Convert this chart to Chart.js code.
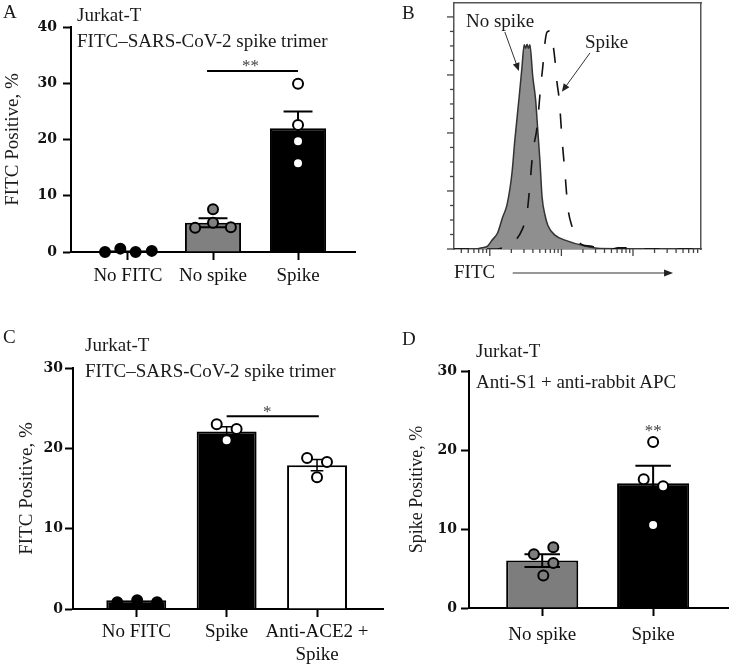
<!DOCTYPE html>
<html><head><meta charset="utf-8">
<script src="https://cdn.jsdelivr.net/npm/chart.js@4.4.1/dist/chart.umd.min.js"></script>
<style>
html,body{margin:0;padding:0;background:#fff;}
#wrap{position:relative;width:735px;height:667px;overflow:hidden;background:#fff;}
canvas{position:absolute;}
.t{position:absolute;font-family:'Liberation Serif',serif;font-size:19px;line-height:19px;white-space:nowrap;color:#1a1a1a;z-index:5;}
</style></head><body>
<div id="wrap">
<canvas id="cA" width="370" height="300" style="left:0;top:0"></canvas>
<canvas id="cB" width="365" height="300" style="left:370px;top:0"></canvas>
<canvas id="cC" width="390" height="337" style="left:0;top:330px"></canvas>
<canvas id="cD" width="365" height="337" style="left:370px;top:330px"></canvas>
<div class="t" style="left:3px;top:2px">A</div>
<div class="t" style="left:77px;top:5px">Jurkat-T</div>
<div class="t" style="left:77px;top:31px">FITC–SARS-CoV-2 spike trimer</div>
<div class="t" style="left:402px;top:3px">B</div>
<div class="t" style="left:466px;top:11px">No spike</div>
<div class="t" style="left:585px;top:32px">Spike</div>
<div class="t" style="left:3px;top:327px">C</div>
<div class="t" style="left:85px;top:335px">Jurkat-T</div>
<div class="t" style="left:85px;top:361px">FITC–SARS-CoV-2 spike trimer</div>
<div class="t" style="left:402px;top:329px">D</div>
<div class="t" style="left:476px;top:341px">Jurkat-T</div>
<div class="t" style="left:476px;top:372px">Anti-S1 + anti-rabbit APC</div>
</div>
<script>
Chart.defaults.font.family = "'Liberation Serif', serif";
Chart.defaults.color = '#111';

// ---------- Panel A data ----------
const catsA = ['No FITC', 'No spike', 'Spike'];
const meanA = [0.3, 5.2, 22.0];
const semA = [0, 0.8, 3.0];
const ptsA_noFitc = [0.0, 0.6, 0.0, 0.2];
const jitA_noFitc = [-0.27, -0.09, 0.09, 0.28];
const ptsA_noSpike = [4.3, 7.6, 5.2, 4.4];
const jitA_noSpike = [-0.21, 0, 0, 0.21];
const ptsA_spike = [29.9, 22.6, 19.7, 15.8];
const jitA_spike = [0, 0, 0, 0];
const sigA = {x1: 0.93, x2: 2.0, y: 32.2, text: '**', tx: 1.44, ty: 32.1};

// ---------- Panel B data (x = log10 FITC intensity) ----------
const noSpikeX = [2.5, 2.8, 2.89, 2.97, 3.03, 3.11, 3.18, 3.24, 3.31, 3.35, 3.41, 3.45, 3.48, 3.5, 3.52, 3.54, 3.56, 3.6, 3.64, 3.67, 3.7, 3.73, 3.77, 3.81, 3.91, 4.08, 4.33, 4.54, 5.95];
const noSpikeY = [0, 0, 0.02, 0.05, 0.15, 0.28, 0.55, 0.76, 1.31, 1.88, 2.62, 3.14, 3.52, 3.46, 3.53, 3.46, 3.52, 2.97, 2.57, 2.05, 1.53, 0.9, 0.59, 0.41, 0.24, 0.14, 0.05, 0.01, 0];
const spikeX = [2.5, 3.1, 3.2, 3.28, 3.38, 3.45, 3.52, 3.56, 3.6, 3.66, 3.71, 3.74, 3.77, 3.8, 3.84, 3.88, 3.91, 3.94, 3.97, 4.01, 4.05, 4.09, 4.15, 4.22, 4.3, 4.4, 4.51, 4.58, 4.7, 4.79, 4.92, 5.0, 5.95];
const spikeY = [0, 0, 0.03, 0.07, 0.18, 0.33, 0.62, 1.1, 1.66, 2.1, 2.79, 3.14, 3.55, 3.74, 3.76, 3.55, 3.26, 2.86, 2.57, 1.88, 1.31, 0.72, 0.38, 0.16, 0.07, 0.05, 0.02, 0, 0, 0.02, 0.02, 0, 0];
const decadesB = [2, 3, 4, 5];
const arrowsB = [
  {x1: 3.21, y1: 3.74, x2: 3.406, y2: 3.07},
  {x1: 4.40, y1: 3.38, x2: 4.007, y2: 2.71}
];

// ---------- Panel C data ----------
const catsC = ['No FITC', 'Spike', ['Anti-ACE2 +', 'Spike']];
const meanC = [1.1, 22.1, 17.9];
const semC = [0, 0.6, 0.7];
const ptsC_noFitc = [0.85, 1.1, 0.85];
const jitC_noFitc = [-0.21, 0.01, 0.23];
const ptsC_spike = [23.0, 21.0, 22.4];
const jitC_spike = [-0.11, 0, 0.11];
const ptsC_anti = [18.8, 16.4, 18.3];
const jitC_anti = [-0.11, 0, 0.11];
const sigC = {x1: 1.0, x2: 2.02, y: 24.0, text: '*', tx: 1.45, ty: 23.9};

// ---------- Panel D data ----------
const catsD = ['No spike', 'Spike'];
const meanD = [6.0, 15.8];
const semD = [0.8, 2.2];
const ptsD_noSpike = [6.8, 7.7, 5.7, 4.1];
const jitD_noSpike = [-0.075, 0.1, 0.1, 0.01];
const ptsD_spike = [21.0, 16.3, 15.4, 10.5];
const jitD_spike = [0, -0.085, 0.09, 0];
const sigD = {text: '**', tx: 1.0, ty: 21.8};

// ---------- helpers ----------
function pts(jit, vals, idx) { return vals.map((v, k) => ({x: idx + jit[k], y: v})); }
function errData(means, sems, cap) {
  const d = [];
  means.forEach((m, i) => {
    const s = sems[i];
    if (!s) return;
    d.push({x: i, y: m - s}, {x: i, y: m + s}, {x: i, y: null},
           {x: i - cap, y: m + s}, {x: i + cap, y: m + s}, {x: i, y: null},
           {x: i - cap, y: m - s}, {x: i + cap, y: m - s}, {x: i, y: null});
  });
  return d;
}
const sigLabelPlugin = {
  id: 'sigLabels',
  afterDatasetsDraw(chart, args, opts) {
    const items = opts.items || [];
    const ctx = chart.ctx, xs = chart.scales.x, ys = chart.scales.y;
    ctx.save();
    ctx.font = "17px 'Liberation Serif'";
    ctx.fillStyle = '#444';
    ctx.textAlign = 'center';
    ctx.textBaseline = 'alphabetic';
    items.forEach(it => ctx.fillText(it.text, xs.getPixelForValue(it.tx), ys.getPixelForValue(it.ty)));
    ctx.restore();
  }
};

function barPanel(id, o) {
  const ds = [
    {type: 'bar', data: o.means.map((m, i) => ({x: i, y: m})), backgroundColor: o.colors,
     borderColor: '#000', borderWidth: 2, categoryPercentage: 1, barPercentage: o.barPct, order: 3},
    {type: 'line', data: errData(o.means, o.sems, o.cap), borderColor: o.errColor, borderWidth: o.errW,
     pointRadius: 0, spanGaps: false, order: 2, clip: false}
  ];
  if (o.sig && o.sig.x1 !== undefined) {
    ds.push({type: 'line', data: [{x: o.sig.x1, y: o.sig.y}, {x: o.sig.x2, y: o.sig.y}],
             borderColor: '#000', borderWidth: 2, pointRadius: 0, order: 2, clip: false});
  }
  o.groups.forEach(g => ds.push({type: 'scatter', data: pts(g.jit, g.vals, g.idx), pointRadius: 5,
    pointBorderWidth: 2, pointBackgroundColor: g.fill, pointBorderColor: '#000', order: 1, clip: false}));
  return new Chart(document.getElementById(id), {
    type: 'bar',
    data: {datasets: ds},
    options: {
      responsive: false, animation: false, events: [],
      layout: {padding: o.pad},
      plugins: {legend: {display: false}, tooltip: {enabled: false},
                sigLabels: {items: o.sig ? [o.sig] : []}},
      scales: {
        x: {type: 'linear', min: o.xmin, max: o.xmax, offset: false,
            grid: {display: true, drawOnChartArea: false, offset: false, tickLength: 8, tickWidth: 2, tickColor: '#000'},
            border: {display: true, color: '#000', width: 2},
            afterBuildTicks: s => { s.ticks = o.cats.map((c, i) => ({value: i})); },
            ticks: {autoSkip: false, maxRotation: 0, padding: o.xPad, color: '#111', font: {size: 19},
                    callback: v => o.cats[v]},
            afterFit: s => { s.height = o.xH; }},
        y: {type: 'linear', min: 0, max: o.ymax,
            ticks: {stepSize: 10, padding: o.yPad, color: '#111', font: {family: "'DejaVu Serif'", weight: 'bold', size: 14}},
            grid: {drawOnChartArea: false, tickLength: 8, tickWidth: 2, tickColor: '#000'},
            border: {display: true, color: '#000', width: 2},
            title: {display: true, text: o.ytitle, font: {size: o.ytSize}, color: '#1a1a1a', padding: {top: 2, bottom: 0}},
            afterFit: s => { s.width = o.yW; }}
      }
    },
    plugins: [sigLabelPlugin]
  });
}

// Panel A
barPanel('cA', {
  means: meanA, sems: semA, cats: catsA, colors: ['#000', '#808080', '#000'], barPct: 0.66,
  cap: 0.17, errW: 2, errColor: '#000', sig: sigA,
  groups: [
    {idx: 0, jit: jitA_noFitc, vals: ptsA_noFitc, fill: '#000'},
    {idx: 1, jit: jitA_noSpike, vals: ptsA_noSpike, fill: '#808080'},
    {idx: 2, jit: jitA_spike, vals: ptsA_spike, fill: '#fff'}
  ],
  pad: {left: 0, top: 27, right: 15, bottom: 0}, xmin: -0.67, xmax: 2.67, xH: 48, yW: 71,
  xPad: 5, yPad: 6, ymax: 40, ytitle: 'FITC Positive, %', ytSize: 19
});

// Panel C
barPanel('cC', {
  means: meanC, sems: semC, cats: catsC, colors: ['#000', '#000', '#fff'], barPct: 0.663,
  cap: 0.07, errW: 1.5, errColor: '#000', sig: sigC,
  groups: [
    {idx: 0, jit: jitC_noFitc, vals: ptsC_noFitc, fill: '#000'},
    {idx: 1, jit: jitC_spike, vals: ptsC_spike, fill: '#fff'},
    {idx: 2, jit: jitC_anti, vals: ptsC_anti, fill: '#fff'}
  ],
  pad: {left: 14, top: 38, right: 7, bottom: 0}, xmin: -0.70, xmax: 2.73, xH: 58, yW: 59,
  xPad: 4, yPad: 2, ymax: 30, ytitle: 'FITC Positive, %', ytSize: 19
});

// Panel D
barPanel('cD', {
  means: meanD, sems: semD, cats: catsD, colors: ['#7d7d7d', '#000'], barPct: 0.65,
  cap: 0.16, errW: 2, errColor: '#000', sig: sigD,
  groups: [
    {idx: 0, jit: jitD_noSpike, vals: ptsD_noSpike, fill: '#7d7d7d'},
    {idx: 1, jit: jitD_spike, vals: ptsD_spike, fill: '#fff'}
  ],
  pad: {left: 34, top: 41, right: 0, bottom: 0}, xmin: -0.66, xmax: 1.675, xH: 59, yW: 65,
  xPad: 8, yPad: 4, ymax: 30, ytitle: 'Spike Positive, %', ytSize: 18
});

// Panel B (flow histogram)
function drawArrow(ctx, x1, y1, x2, y2, len, half) {
  const a = Math.atan2(y2 - y1, x2 - x1), c = Math.cos(a), s = Math.sin(a);
  ctx.beginPath(); ctx.moveTo(x1, y1); ctx.lineTo(x2 - c * len * 0.6, y2 - s * len * 0.6); ctx.stroke();
  ctx.beginPath(); ctx.moveTo(x2, y2);
  ctx.lineTo(x2 - len * c + half * s, y2 - len * s - half * c);
  ctx.lineTo(x2 - len * c - half * s, y2 - len * s + half * c);
  ctx.closePath(); ctx.fill();
}
const flowPlugin = {
  id: 'flowDeco',
  afterDraw(chart) {
    const ctx = chart.ctx, xs = chart.scales.x, ys = chart.scales.y, a = chart.chartArea;
    ctx.save();
    ctx.strokeStyle = '#444'; ctx.lineWidth = 1.3;
    decadesB.forEach(d => {
      for (let k = 1; k <= 9; k++) {
        const v = d + Math.log10(k);
        if (v < xs.min || v > xs.max) continue;
        const p = xs.getPixelForValue(v);
        ctx.beginPath(); ctx.moveTo(p, a.bottom); ctx.lineTo(p, a.bottom + (k === 1 ? 7 : 4)); ctx.stroke();
      }
    });
    for (let i = 0; i <= 16; i++) {
      const p = ys.getPixelForValue(i * 0.25);
      ctx.beginPath(); ctx.moveTo(a.left, p); ctx.lineTo(a.left - (i % 4 === 0 ? 7 : 4), p); ctx.stroke();
    }
    ctx.strokeStyle = '#333'; ctx.fillStyle = '#222'; ctx.lineWidth = 1;
    arrowsB.forEach(r => drawArrow(ctx, xs.getPixelForValue(r.x1), ys.getPixelForValue(r.y1),
                                   xs.getPixelForValue(r.x2), ys.getPixelForValue(r.y2), 8, 3.5));
    ctx.lineWidth = 1.2;
    const ay = chart.height - 27;
    drawArrow(ctx, xs.getPixelForValue(3.32), ay, xs.getPixelForValue(5.56), ay, 9, 3.5);
    ctx.restore();
  }
};
new Chart(document.getElementById('cB'), {
  type: 'line',
  data: {datasets: [
    {label: 'No spike', data: noSpikeX.map((x, i) => ({x, y: noSpikeY[i]})), fill: 'origin',
     backgroundColor: '#8f8f8f', borderColor: '#333', borderWidth: 1.5, pointRadius: 0,
     cubicInterpolationMode: 'monotone', order: 2},
    {label: 'Spike', data: spikeX.map((x, i) => ({x, y: spikeY[i]})), fill: false,
     borderColor: '#111', borderWidth: 1.6, borderDash: [15, 18], pointRadius: 0,
     cubicInterpolationMode: 'monotone', order: 1}
  ]},
  options: {
    responsive: false, animation: false, events: [],
    layout: {padding: {left: 0, top: 3, right: 34, bottom: 0}},
    plugins: {legend: {display: false}, tooltip: {enabled: false}},
    scales: {
      x: {type: 'linear', min: 2.5, max: 5.95, ticks: {display: false}, grid: {display: false},
          border: {display: true, color: '#555', width: 1.5},
          title: {display: true, text: 'FITC', align: 'start', font: {size: 19}, color: '#1a1a1a', padding: {top: 0, bottom: 16}},
          afterFit: s => { s.height = 51; }},
      y: {type: 'linear', min: 0, max: 4.24, ticks: {display: false}, grid: {display: false},
          border: {display: true, color: '#555', width: 1.5},
          afterFit: s => { s.width = 84; }},
      x2: {type: 'linear', position: 'top', display: true, ticks: {display: false}, grid: {display: false},
           border: {display: true, color: '#555', width: 1.5}, afterFit: s => { s.height = 0; }},
      y2: {type: 'linear', position: 'right', display: true, ticks: {display: false}, grid: {display: false},
           border: {display: true, color: '#555', width: 1.5}, afterFit: s => { s.width = 0; }}
    }
  },
  plugins: [flowPlugin]
});
</script>
</body></html>
